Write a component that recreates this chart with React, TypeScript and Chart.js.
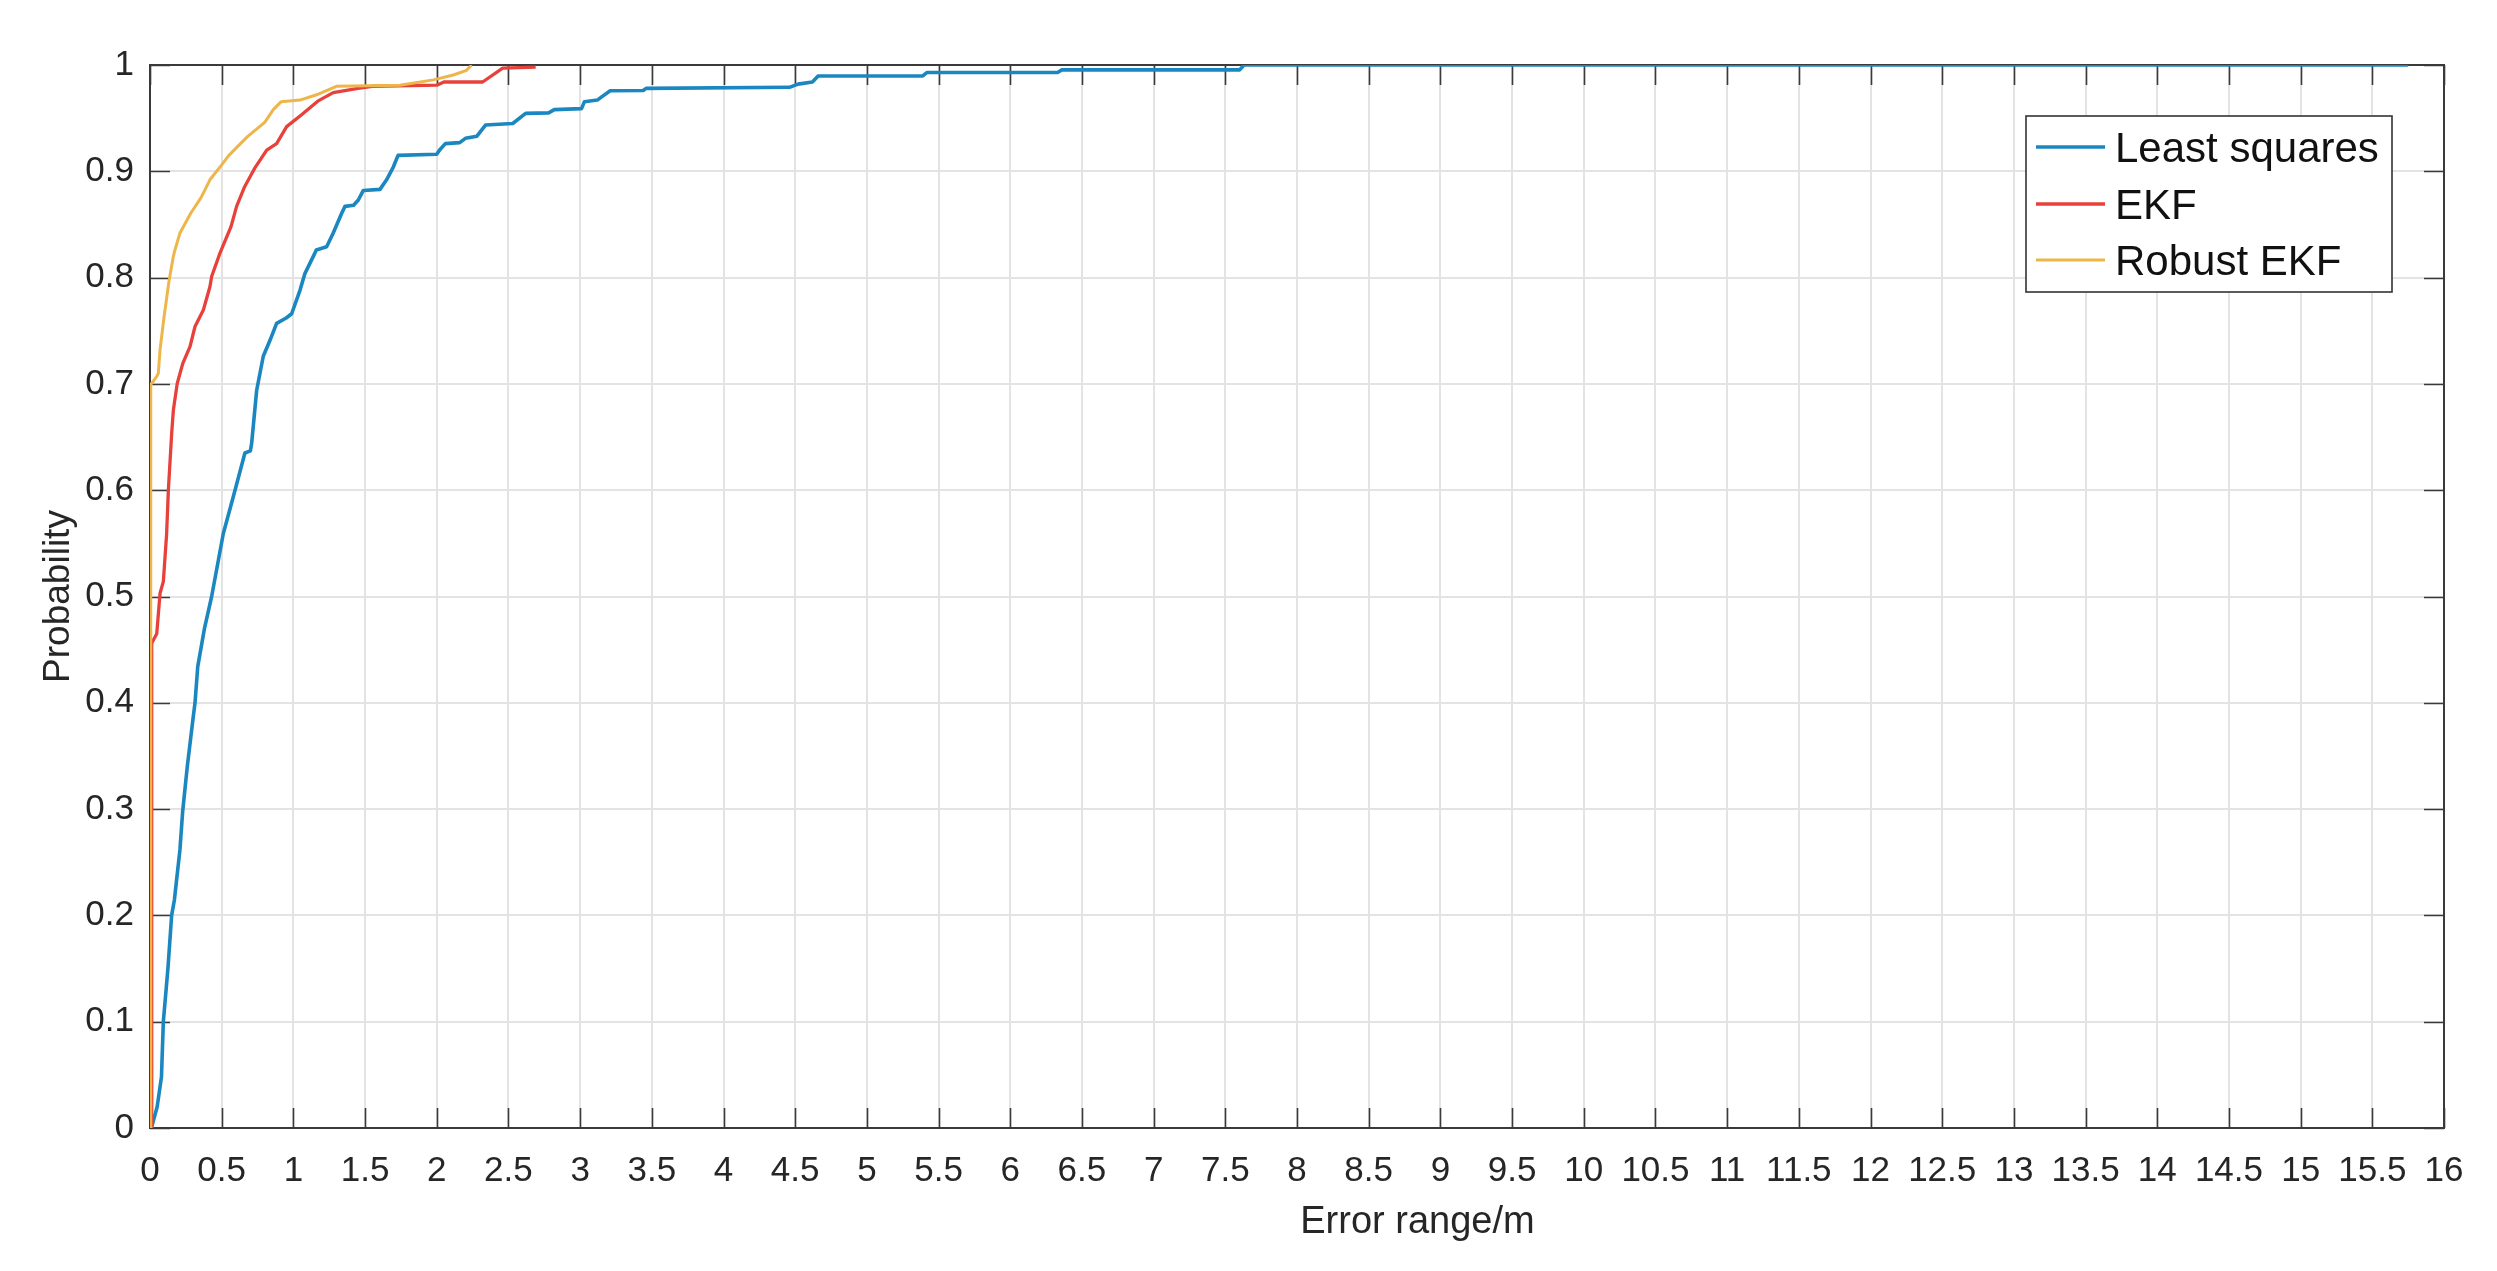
import React, { useEffect, useRef } from 'react';
import { Chart, registerables } from 'chart.js';

Chart.register(...registerables);

// ---------- data ----------
const seriesNames = ['Least squares', 'EKF', 'Robust EKF'];

const xTickValues = [0, 0.5, 1, 1.5, 2, 2.5, 3, 3.5, 4, 4.5, 5, 5.5, 6, 6.5, 7, 7.5, 8, 8.5, 9, 9.5, 10, 10.5, 11, 11.5, 12, 12.5, 13, 13.5, 14, 14.5, 15, 15.5, 16];
const xTickLabels = ['0', '0.5', '1', '1.5', '2', '2.5', '3', '3.5', '4', '4.5', '5', '5.5', '6', '6.5', '7', '7.5', '8', '8.5', '9', '9.5', '10', '10.5', '11', '11.5', '12', '12.5', '13', '13.5', '14', '14.5', '15', '15.5', '16'];
const yTickValues = [0, 0.1, 0.2, 0.3, 0.4, 0.5, 0.6, 0.7, 0.8, 0.9, 1];
const yTickLabels = ['0', '0.1', '0.2', '0.3', '0.4', '0.5', '0.6', '0.7', '0.8', '0.9', '1'];

const xAxisTitle = 'Error range/m';
const yAxisTitle = 'Probability';

// Least squares
const lsX = [0.01, 0.05, 0.08, 0.093, 0.125, 0.151, 0.17, 0.209, 0.228, 0.26, 0.30, 0.314, 0.333, 0.38, 0.43, 0.511, 0.593, 0.662, 0.70, 0.709, 0.744, 0.79, 0.837, 0.883, 0.95, 0.988, 1.046, 1.081, 1.139, 1.16, 1.232, 1.278, 1.337, 1.36, 1.42, 1.453, 1.488, 1.604, 1.65, 1.697, 1.73, 2.0, 2.02, 2.06, 2.16, 2.2, 2.28, 2.34, 2.53, 2.62, 2.78, 2.82, 3.01, 3.03, 3.12, 3.15, 3.21, 3.44, 3.46, 4.46, 4.52, 4.62, 4.66, 5.39, 5.42, 6.33, 6.36, 7.6, 7.63, 15.75];
const lsY = [0, 0.02, 0.048, 0.1, 0.15, 0.2, 0.2145, 0.262, 0.298, 0.34, 0.385, 0.4, 0.434, 0.47, 0.5, 0.559, 0.6, 0.635, 0.637, 0.644, 0.694, 0.726, 0.741, 0.757, 0.762, 0.766, 0.788, 0.804, 0.82, 0.826, 0.829, 0.842, 0.8605, 0.867, 0.868, 0.873, 0.882, 0.883, 0.892, 0.904, 0.915, 0.916, 0.92, 0.926, 0.927, 0.931, 0.933, 0.9435, 0.945, 0.9545, 0.955, 0.958, 0.959, 0.9655, 0.967, 0.97, 0.9758, 0.976, 0.978, 0.979, 0.982, 0.984, 0.9897, 0.9897, 0.993, 0.993, 0.9954, 0.9954, 1.0, 1.0];

// EKF
const ekfX = [0.012, 0.012, 0.047, 0.07, 0.093, 0.116, 0.128, 0.151, 0.163, 0.19, 0.228, 0.279, 0.314, 0.372, 0.418, 0.43, 0.488, 0.565, 0.604, 0.66, 0.735, 0.814, 0.883, 0.953, 1.055, 1.17, 1.278, 1.45, 1.55, 2.0, 2.05, 2.32, 2.46, 2.69];
const ekfY = [0, 0.456, 0.465, 0.503, 0.514, 0.559, 0.6, 0.653, 0.6755, 0.7005, 0.719, 0.735, 0.754, 0.7695, 0.7914, 0.801, 0.823, 0.848, 0.867, 0.8855, 0.904, 0.92, 0.926, 0.942, 0.953, 0.966, 0.974, 0.978, 0.98, 0.981, 0.984, 0.984, 0.997, 0.998];

// Robust EKF
const rekfX = [0, 0.005, 0.012, 0.047, 0.058, 0.07, 0.098, 0.133, 0.163, 0.174, 0.209, 0.284, 0.355, 0.418, 0.5, 0.55, 0.68, 0.8, 0.86, 0.915, 1.046, 1.162, 1.3, 1.743, 1.976, 2.115, 2.208, 2.243];
const rekfY = [0, 0.70, 0.7005, 0.707, 0.71, 0.732, 0.763, 0.797, 0.82, 0.826, 0.842, 0.8605, 0.875, 0.892, 0.906, 0.915, 0.9326, 0.946, 0.958, 0.9655, 0.967, 0.972, 0.98, 0.981, 0.986, 0.9906, 0.995, 1.0];

// ---------- styles ----------
const FONT = '"Liberation Sans", Arial, Helvetica, sans-serif';
const colors = ['#1b87c0', '#e8403a', '#eeb64a'];
const widths = [3.6, 3.3, 3];
const TEXT = '#262626';
const AXIS = '#3a3a3a';
const GRID = '#e3e3e3';

const toPts = (xs: number[], ys: number[]) => xs.map((x, i) => ({ x, y: ys[i] }));

const framePlugin = {
  id: 'frame',
  beforeDatasetsDraw(chart: any) {
    const { ctx, chartArea: a } = chart;
    const xs = chart.scales.x;
    const ys = chart.scales.y;
    ctx.save();
    ctx.strokeStyle = AXIS;
    ctx.lineWidth = 2;
    ctx.strokeRect(a.left, a.top, a.right - a.left, a.bottom - a.top);
    const tl = 20;
    ctx.beginPath();
    xTickValues.forEach((v) => {
      const px = Math.round(xs.getPixelForValue(v)) + 0.5;
      ctx.moveTo(px, a.bottom);
      ctx.lineTo(px, a.bottom - tl);
      ctx.moveTo(px, a.top);
      ctx.lineTo(px, a.top + tl);
    });
    yTickValues.forEach((v) => {
      const py = Math.round(ys.getPixelForValue(v)) + 0.5;
      ctx.moveTo(a.left, py);
      ctx.lineTo(a.left + tl, py);
      ctx.moveTo(a.right, py);
      ctx.lineTo(a.right - tl, py);
    });
    ctx.lineWidth = 1.6;
    ctx.stroke();
    ctx.restore();
  },
  afterDraw(chart: any) {
    const { ctx, chartArea: a } = chart;
    const xs = chart.scales.x;
    ctx.save();
    // x-axis title
    ctx.font = `38px ${FONT}`;
    ctx.fillStyle = TEXT;
    ctx.textAlign = 'center';
    ctx.textBaseline = 'middle';
    ctx.fillText(xAxisTitle, xs.getPixelForValue(8.84), chart.height - 48);

    // legend
    const bw = 366, bh = 176;
    const bx = a.right - 418, by = a.top + 51;
    ctx.fillStyle = '#ffffff';
    ctx.fillRect(bx, by, bw, bh);
    ctx.strokeStyle = '#333333';
    ctx.lineWidth = 1.6;
    ctx.strokeRect(bx, by, bw, bh);
    const rows = [31, 88, 144];
    ctx.font = `42px ${FONT}`;
    ctx.textAlign = 'left';
    ctx.textBaseline = 'middle';
    seriesNames.forEach((name, i) => {
      const yy = by + rows[i];
      ctx.strokeStyle = colors[i];
      ctx.lineWidth = widths[i];
      ctx.beginPath();
      ctx.moveTo(bx + 10, yy);
      ctx.lineTo(bx + 79, yy);
      ctx.stroke();
      ctx.fillStyle = '#111111';
      ctx.fillText(name, bx + 89, yy + 3);
    });
    ctx.restore();
  },
};

export default function App() {
  const ref = useRef<HTMLCanvasElement | null>(null);

  useEffect(() => {
    if (!ref.current) return;
    const chart = new Chart(ref.current, {
      type: 'line',
      data: {
        datasets: [
          { label: seriesNames[0], data: toPts(lsX, lsY), borderColor: colors[0], borderWidth: widths[0], order: 2 },
          { label: seriesNames[1], data: toPts(ekfX, ekfY), borderColor: colors[1], borderWidth: widths[1], order: 1 },
          { label: seriesNames[2], data: toPts(rekfX, rekfY), borderColor: colors[2], borderWidth: widths[2], order: 0 },
        ].map((d) => ({ ...d, pointRadius: 0, tension: 0, fill: false, backgroundColor: d.borderColor, borderJoinStyle: 'round' as const })),
      },
      options: {
        responsive: false,
        animation: false,
        events: [],
        layout: { padding: { left: 0, top: 65, right: 53, bottom: 0 } },
        plugins: { legend: { display: false }, tooltip: { enabled: false } },
        scales: {
          x: {
            type: 'linear',
            min: 0,
            max: 16,
            afterBuildTicks: (s: any) => {
              s.ticks = xTickValues.map((v) => ({ value: v }));
            },
            afterFit: (s: any) => {
              s.height = 143;
            },
            ticks: {
              autoSkip: false,
              maxRotation: 0,
              minRotation: 0,
              padding: 22,
              color: TEXT,
              font: { family: FONT, size: 35 },
              callback: (_v: any, i: number) => xTickLabels[i],
            },
            grid: { color: GRID, lineWidth: 2, drawTicks: false },
            border: { display: false },
          },
          y: {
            type: 'linear',
            min: 0,
            max: 1,
            afterBuildTicks: (s: any) => {
              s.ticks = yTickValues.map((v) => ({ value: v }));
            },
            afterFit: (s: any) => {
              s.width = 150;
            },
            ticks: {
              padding: 16,
              color: TEXT,
              font: { family: FONT, size: 35 },
              callback: (_v: any, i: number) => yTickLabels[i],
            },
            grid: { color: GRID, lineWidth: 2, drawTicks: false },
            border: { display: false },
            title: {
              display: true,
              text: yAxisTitle,
              color: TEXT,
              font: { family: FONT, size: 37 },
              padding: { top: 37, bottom: 0 },
            },
          },
        },
      },
      plugins: [framePlugin],
    });
    return () => chart.destroy();
  }, []);

  return (
    <div style={{ position: 'absolute', left: 0, top: 0, width: 2497, height: 1271, background: '#ffffff' }}>
      <canvas ref={ref} width={2497} height={1271} style={{ width: 2497, height: 1271, display: 'block' }} />
    </div>
  );
}
